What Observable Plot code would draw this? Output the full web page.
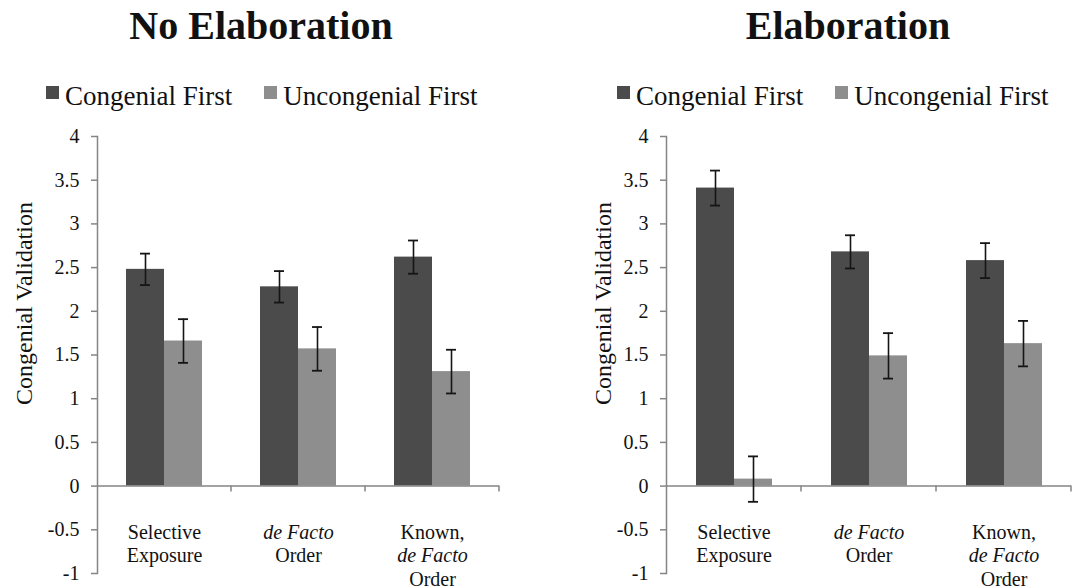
<!DOCTYPE html>
<html>
<head>
<meta charset="utf-8">
<script src="https://cdn.jsdelivr.net/npm/d3@7"></script>
<script src="https://cdn.jsdelivr.net/npm/@observablehq/plot@0.6"></script>
<style>
  html, body { margin: 0; padding: 0; background: #fff; }
  body { width: 1081px; height: 588px; position: relative; overflow: hidden; color: #111; }
  .panel { position: absolute; top: 0; height: 588px; }
  .title { position: absolute; top: 6px; transform: translateX(-50%); white-space: nowrap;
           font-weight: bold; font-size: 40px; line-height: 40px; }
  .legend { position: absolute; top: 83px; display: flex; gap: 32px; white-space: nowrap;
            font-size: 27px; line-height: 27px; }
  .legend .item { display: flex; align-items: flex-start; }
  .legend .sw { width: 13px; height: 13px; margin-top: 3px; margin-right: 6px; }
  .chart { position: absolute; top: 110px; left: 0; }
</style>
</head>
<body style="font-family:'Liberation Serif'">
<div id="panel0" class="panel" style="left:0;width:540px;font-family:'Liberation Serif'"></div>
<div id="panel1" class="panel" style="left:540px;width:541px;font-family:'Liberation Serif'"></div>
<script>
// ---- data ----
const categories = ["Selective Exposure", "de Facto Order", "Known, de Facto Order"];
const series = ["Congenial First", "Uncongenial First"];
const labelPlain = ["Selective\nExposure", "\nOrder", "Known,\n\nOrder"];
const labelItalic = ["", "de Facto", "\nde Facto"];
const yTicks = [-1, -0.5, 0, 0.5, 1, 1.5, 2, 2.5, 3, 3.5, 4];
const panelTitles = ["No Elaboration", "Elaboration"];
const yLabel = "Congenial Validation";

const noElabCongenial = [2.48, 2.28, 2.62];
const noElabCongenialErr = [0.18, 0.18, 0.19];
const noElabUncongenial = [1.66, 1.57, 1.31];
const noElabUncongenialErr = [0.25, 0.25, 0.25];

const elabCongenial = [3.41, 2.68, 2.58];
const elabCongenialErr = [0.20, 0.19, 0.20];
const elabUncongenial = [0.08, 1.49, 1.63];
const elabUncongenialErr = [0.26, 0.26, 0.26];

const colors = ["#4b4b4b", "#8e8e8e"];
const axisColor = "#858585";
const serifFont = "'Liberation Serif'";

// ---- build ----
function rowsFor(cong, congErr, uncong, uncongErr) {
  const rows = [];
  categories.forEach((c, i) => {
    rows.push({category: c, series: series[0], value: cong[i], err: congErr[i]});
    rows.push({category: c, series: series[1], value: uncong[i], err: uncongErr[i]});
  });
  return rows;
}
const labelRows = categories.map((c, i) => ({category: c, plain: labelPlain[i], italic: labelItalic[i]}));

// short tick marks at the right edge of each category on the zero line
function boundaryTick(index, scales, values, dimensions, context) {
  const doc = context && context.document ? context.document : document;
  let xr;
  if (scales.x && typeof scales.x.range === "function") xr = scales.x.range()[1];
  else xr = dimensions.width - dimensions.marginRight;
  const y0 = scales.y(0);
  const p = doc.createElementNS("http://www.w3.org/2000/svg", "path");
  p.setAttribute("d", `M${xr},${y0}V${y0 + 6}`);
  p.setAttribute("stroke", axisColor);
  p.setAttribute("stroke-width", "1.5");
  p.setAttribute("fill", "none");
  return p;
}

function makeChart(rows, width, marginLeft, marginRight, labelOffset) {
  const svg = Plot.plot({
    width, height: 478,
    marginTop: 26, marginBottom: 15, marginLeft, marginRight,
    style: "font-family: 'Liberation Serif'; background: transparent; color: #111; overflow: visible;",
    fx: {domain: categories, padding: 0, axis: null},
    x: {domain: series, paddingInner: 0, paddingOuter: 0.745, axis: null},
    y: {domain: [-1, 4], axis: null},
    color: {domain: series, range: colors},
    marks: [
      Plot.barY(rows, {fx: "category", x: "series", y: "value", fill: "series"}),
      Plot.frame({anchor: "left", facetAnchor: "left", stroke: axisColor, strokeWidth: 1.5}),
      Plot.axisY({ticks: yTicks, tickFormat: d => String(d), tickSize: 6, tickPadding: 12,
                  fontSize: 20, fontFamily: serifFont, stroke: axisColor, strokeWidth: 1.5, fill: "#111", label: null}),
      Plot.ruleY([0], {stroke: axisColor, strokeWidth: 1.5}),
      boundaryTick,
      Plot.ruleX(rows, {fx: "category", x: "series", y1: d => d.value - d.err, y2: d => d.value + d.err,
                        stroke: "#151515", strokeWidth: 1.6}),
      Plot.tickY(rows, {fx: "category", x: "series", y: d => d.value + d.err, insetLeft: 14, insetRight: 14,
                        stroke: "#151515", strokeWidth: 1.8}),
      Plot.tickY(rows, {fx: "category", x: "series", y: d => d.value - d.err, insetLeft: 14, insetRight: 14,
                        stroke: "#151515", strokeWidth: 1.8}),
      Plot.text(labelRows, {fx: "category", text: "plain", frameAnchor: "bottom", lineAnchor: "top",
                            dy: -51.5, fontSize: 20, fontFamily: serifFont, lineHeight: 1.175, fill: "#111"}),
      Plot.text(labelRows, {fx: "category", text: "italic", frameAnchor: "bottom", lineAnchor: "top",
                            dy: -51.5, fontSize: 20, fontFamily: serifFont, lineHeight: 1.175,
                            fontStyle: "italic", fill: "#111"}),
      Plot.text([yLabel], {text: d => d, frameAnchor: "left", textAnchor: "middle", rotate: -90, lineAnchor: "top",
                           dx: -labelOffset, dy: -51.5, fontSize: 24, fontFamily: serifFont,
                           facetAnchor: "left", fill: "#111"})
    ]
  });
  svg.setAttribute("font-family", "Liberation Serif");
  svg.querySelectorAll("g, text, tspan").forEach(n => {
    if (n.hasAttribute("font-family")) n.setAttribute("font-family", "Liberation Serif");
    if (n.tagName === "text") n.style.fontFamily = "'Liberation Serif'";
  });
  return svg;
}

function buildPanel(el, title, titleX, legendX, rows, width, ml, mr, labelOffset) {
  const t = document.createElement("div");
  t.className = "title";
  t.style.left = titleX + "px";
  t.style.fontFamily = "'Liberation Serif'";
  t.textContent = title;
  el.appendChild(t);

  const lg = document.createElement("div");
  lg.className = "legend";
  lg.style.left = legendX + "px";
  lg.style.fontFamily = "'Liberation Serif'";
  series.forEach((s, i) => {
    const it = document.createElement("div");
    it.className = "item";
    const sw = document.createElement("span");
    sw.className = "sw";
    sw.style.background = colors[i];
    const tx = document.createElement("span");
    tx.style.fontFamily = "'Liberation Serif'";
    tx.textContent = s;
    it.appendChild(sw); it.appendChild(tx);
    lg.appendChild(it);
  });
  el.appendChild(lg);

  const c = document.createElement("div");
  c.className = "chart";
  c.appendChild(makeChart(rows, width, ml, mr, labelOffset));
  el.appendChild(c);
}

buildPanel(document.getElementById("panel0"), panelTitles[0], 261, 46,
  rowsFor(noElabCongenial, noElabCongenialErr, noElabUncongenial, noElabUncongenialErr),
  540, 96, 40, 83);
buildPanel(document.getElementById("panel1"), panelTitles[1], 308, 77,
  rowsFor(elabCongenial, elabCongenialErr, elabUncongenial, elabUncongenialErr),
  541, 126, 10, 73);
</script>
</body>
</html>
